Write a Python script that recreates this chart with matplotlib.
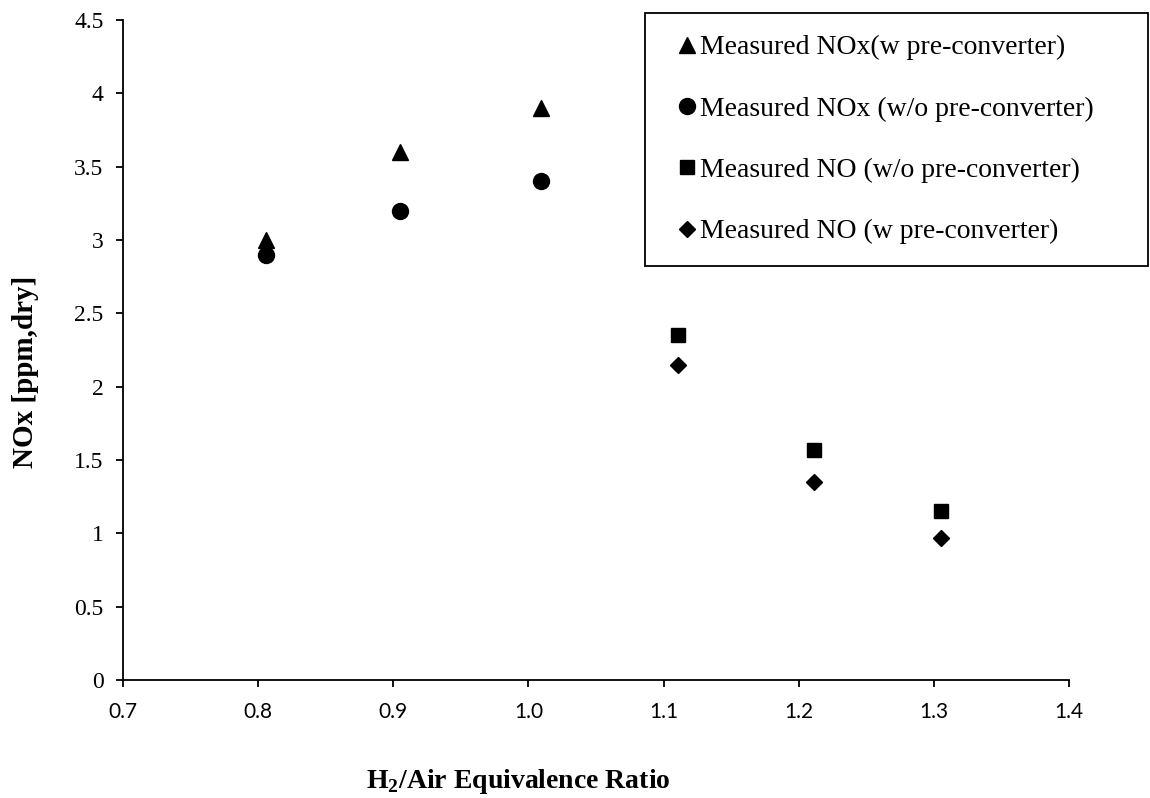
import matplotlib
matplotlib.use("Agg")
import matplotlib.pyplot as plt

# Equivalence ratio and measured emissions
phi_nox = [0.806, 0.905, 1.009]
nox_with_pc = [3.0, 3.6, 3.9]
nox_without_pc = [2.9, 3.2, 3.4]

phi_no = [1.111, 1.211, 1.305]
no_without_pc = [2.35, 1.57, 1.15]
no_with_pc = [2.15, 1.35, 0.97]

x_ticks = [0.7, 0.8, 0.9, 1.0, 1.1, 1.2, 1.3, 1.4]
x_tick_labels = ["0.7", "0.8", "0.9", "1.0", "1.1", "1.2", "1.3", "1.4"]
y_ticks = [0, 0.5, 1, 1.5, 2, 2.5, 3, 3.5, 4, 4.5]
y_tick_labels = ["0", "0.5", "1", "1.5", "2", "2.5", "3", "3.5", "4", "4.5"]

serif = "Liberation Serif"
sans = "Lato"

fig = plt.figure(figsize=(11.5, 7.98), dpi=100)
ax = fig.add_axes([0.107, 0.148, 0.8226, 0.827])

ax.plot(phi_nox, nox_with_pc, ls="none", marker="^", ms=11, color="black",
        label="Measured NOx(w pre-converter)")
ax.plot(phi_nox, nox_without_pc, ls="none", marker="o", ms=11.5, color="black",
        label="Measured NOx (w/o pre-converter)")
ax.plot(phi_no, no_without_pc, ls="none", marker="s", ms=10, color="black",
        label="Measured NO (w/o pre-converter)")
ax.plot(phi_no, no_with_pc, ls="none", marker="D", ms=8, color="black",
        label="Measured NO (w pre-converter)")

ax.set_xlim(0.7, 1.4)
ax.set_ylim(0, 4.5)
ax.set_xticks(x_ticks)
ax.set_xticklabels(x_tick_labels, fontfamily=sans, fontsize=15)
ax.set_yticks(y_ticks)
ax.set_yticklabels(y_tick_labels, fontfamily=serif, fontsize=17)

for side in ("top", "right"):
    ax.spines[side].set_visible(False)
for side in ("left", "bottom"):
    ax.spines[side].set_linewidth(1.3)
    ax.spines[side].set_color("black")
ax.tick_params(axis="both", direction="out", length=5, width=1.3, color="black")
ax.tick_params(axis="x", pad=11)
ax.tick_params(axis="y", pad=9)

fig.text(0.451, 0.021, r"H$_\mathregular{2}$/Air Equivalence Ratio",
         fontfamily=serif, fontweight="bold", fontsize=20, ha="center", va="center")
fig.text(0.022, 0.534, "NOx [ppm,dry]", fontfamily=serif, fontweight="bold",
         fontsize=21, rotation=90, ha="center", va="center")

leg = fig.legend(loc="upper left", bbox_to_anchor=(0.561, 0.674, 0.437, 0.3097),
                 mode="expand", borderaxespad=0, frameon=True, fancybox=False,
                 edgecolor="black", handlelength=1.46, handletextpad=-0.28,
                 labelspacing=1.29, borderpad=0.79,
                 prop={"family": serif, "size": 20})
leg.get_frame().set_linewidth(1.3)
leg.get_frame().set_alpha(1)

fig.savefig("out.png", dpi=100)
